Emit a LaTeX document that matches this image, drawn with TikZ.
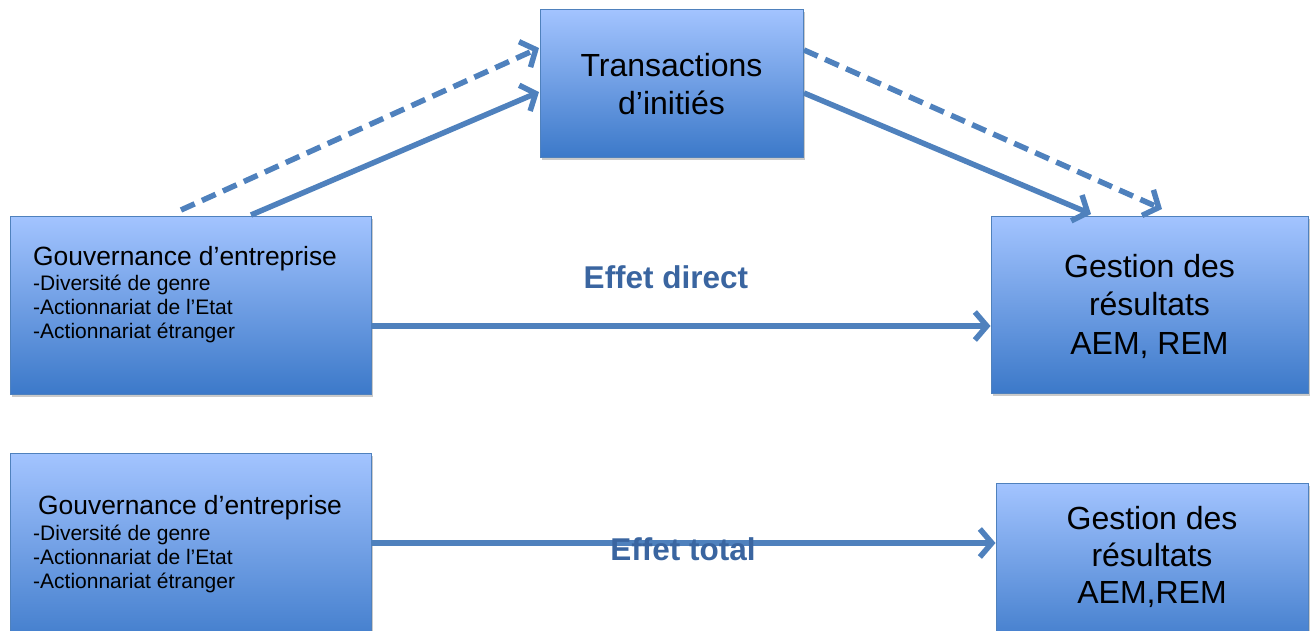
\documentclass[tikz,border=0pt]{standalone}
\usepackage{fontspec}
\setmainfont{Liberation Sans}
\usetikzlibrary{arrows.meta,shadows}
\definecolor{lineblue}{HTML}{4F81BD}
\definecolor{topblue}{HTML}{A3C4FF}
\definecolor{botblue}{HTML}{3C79C9}
\definecolor{effblue}{HTML}{3A65A0}
\tikzset{
  boxnode/.style={draw=lineblue, line width=1pt, top color=topblue, bottom color=botblue,
    inner sep=0pt, drop shadow={shadow xshift=2pt, shadow yshift=-3pt, opacity=0.35, fill=black!60}},
  conn/.style={draw=lineblue, line width=5.5pt, -{Straight Barb[length=12pt,width=28pt,line width=5.5pt]}},
  dashconn/.style={conn, dash pattern=on 15pt off 8pt},
  bigtext/.style={font=\fontsize{32}{37.5}\selectfont, align=center, inner sep=0pt},
  govhead/.style={font=\fontsize{26.4}{30}\selectfont, inner sep=0pt, anchor=base west},
  govitem/.style={font=\fontsize{21}{24}\selectfont, inner sep=0pt, anchor=base west, align=left},
  efftext/.style={font=\fontsize{31.5}{36}\bfseries\selectfont, text=effblue, inner sep=0pt}
}
\begin{document}
\begin{tikzpicture}[x=1pt,y=-1pt]
\useasboundingbox (0,0) rectangle (1315,630);
% boxes
\node[boxnode, minimum width=361pt, minimum height=178pt] (gov1) at (190.5,305) {};
\node[boxnode, minimum width=263pt, minimum height=148pt] (trans) at (671.5,83) {};
\node[boxnode, minimum width=317pt, minimum height=177pt] (ges1) at (1149.5,304.5) {};
\node[boxnode, minimum width=361pt, minimum height=200pt] (gov2) at (190.5,553) {};
\node[boxnode, minimum width=312pt, minimum height=170pt] (ges2) at (1152,568) {};
% texts
\node[govhead] (g1h) at (33,265) {Gouvernance d’entreprise};
\node[govitem] (g1a) at (33,290) {-Diversité de genre};
\node[govitem] (g1b) at (33,314) {-Actionnariat de l’Etat};
\node[govitem] (g1c) at (33,338) {-Actionnariat étranger};
\node[govhead] (g2h) at (38,514) {Gouvernance d’entreprise};
\node[govitem] (g2a) at (33,540) {-Diversité de genre};
\node[govitem] (g2b) at (33,564) {-Actionnariat de l’Etat};
\node[govitem] (g2c) at (33,588) {-Actionnariat étranger};
\node[bigtext] (tt) at (671.5,84) {Transactions\\d’initiés};
\node[bigtext, font=\fontsize{32}{38.5}\selectfont] (gt1) at (1149.5,306) {Gestion des\\résultats\\AEM, REM};
\node[bigtext, font=\fontsize{32}{37}\selectfont] (gt2) at (1152,557) {Gestion des\\résultats\\AEM,REM};
% connectors
\coordinate (d1s) at (181,210);
\coordinate (d1e) at (539,48);
\coordinate (s1s) at (251,215);
\coordinate (s1e) at (539,92);
\coordinate (d2s) at (804,50);
\coordinate (d2e) at (1162,209);
\coordinate (s2s) at (804,93);
\coordinate (s2e) at (1091,214);
\draw[dashconn] (d1s) -- (d1e);
\draw[conn] (s1s) -- (s1e);
\draw[dashconn] (d2s) -- (d2e);
\draw[conn] (s2s) -- (s2e);
\draw[conn] (gov1.east |- 0,326) -- (ges1.west |- 0,326);
\draw[conn] (gov2.east |- 0,543) -- (ges2.west |- 0,543);
% labels
\node[efftext] (ed) at (666,277) {Effet direct};
\node[efftext] (et) at (683,549) {Effet total};
\end{tikzpicture}
\end{document}
